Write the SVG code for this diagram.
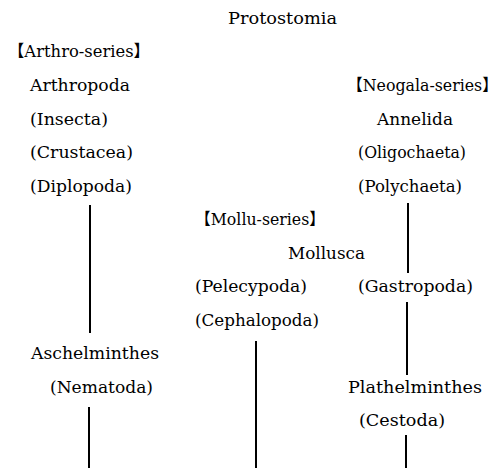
<svg xmlns="http://www.w3.org/2000/svg" width="504" height="468" viewBox="0 0 504 468">
<style>
text{font-family:"DejaVu Serif","Noto Sans CJK JP",serif;font-size:16.5px;fill:#000}
.c line{stroke:#000;stroke-width:2}
</style>
<rect width="504" height="468" fill="#fff"/>
<g id="protostomia"><text x="228" y="24" textLength="109" lengthAdjust="spacingAndGlyphs">Protostomia</text></g>
<g id="arthro-series">
<text x="8" y="57" textLength="142" lengthAdjust="spacingAndGlyphs">【Arthro-series】</text>
<text x="30" y="91" textLength="100" lengthAdjust="spacingAndGlyphs">Arthropoda</text>
<text x="30" y="125" textLength="78" lengthAdjust="spacingAndGlyphs">(Insecta)</text>
<text x="30" y="158" textLength="103" lengthAdjust="spacingAndGlyphs">(Crustacea)</text>
<text x="30" y="192" textLength="102" lengthAdjust="spacingAndGlyphs">(Diplopoda)</text>
</g>
<g id="neogala-series">
<text x="347" y="91" textLength="151" lengthAdjust="spacingAndGlyphs">【Neogala-series】</text>
<text x="377" y="125" textLength="76" lengthAdjust="spacingAndGlyphs">Annelida</text>
<text x="358" y="158" textLength="108" lengthAdjust="spacingAndGlyphs">(Oligochaeta)</text>
<text x="358" y="192" textLength="104" lengthAdjust="spacingAndGlyphs">(Polychaeta)</text>
</g>
<g id="mollu-series">
<text x="195" y="225" textLength="130" lengthAdjust="spacingAndGlyphs">【Mollu-series】</text>
<text x="288" y="259" textLength="77" lengthAdjust="spacingAndGlyphs">Mollusca</text>
<text x="195" y="292" textLength="112" lengthAdjust="spacingAndGlyphs">(Pelecypoda)</text>
<text x="195" y="326" textLength="124" lengthAdjust="spacingAndGlyphs">(Cephalopoda)</text>
</g>
<g id="gastropoda"><text x="358" y="292" textLength="115" lengthAdjust="spacingAndGlyphs">(Gastropoda)</text></g>
<g id="aschelminthes">
<text x="31" y="359" textLength="128" lengthAdjust="spacingAndGlyphs">Aschelminthes</text>
<text x="50" y="393" textLength="103" lengthAdjust="spacingAndGlyphs">(Nematoda)</text>
</g>
<g id="plathelminthes">
<text x="348" y="393" textLength="134" lengthAdjust="spacingAndGlyphs">Plathelminthes</text>
<text x="359" y="426" textLength="86" lengthAdjust="spacingAndGlyphs">(Cestoda)</text>
</g>
<g class="c" id="connectors">
<line x1="90" y1="205" x2="90" y2="333"/>
<line x1="89" y1="407" x2="89" y2="468"/>
<line x1="256" y1="341" x2="256" y2="468"/>
<line x1="408" y1="203" x2="408" y2="273"/>
<line x1="407" y1="302" x2="407" y2="375"/>
<line x1="406" y1="435" x2="406" y2="468"/>
</g>
</svg>
